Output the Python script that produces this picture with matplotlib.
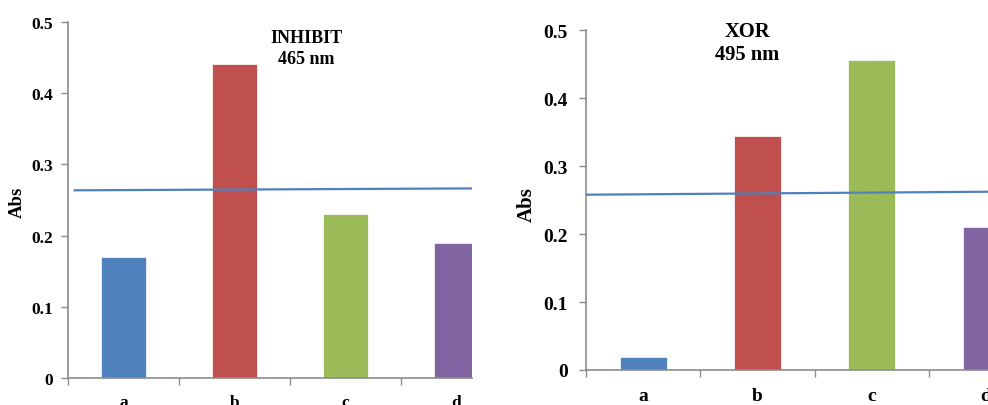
import matplotlib.pyplot as plt
from matplotlib.ticker import FixedLocator

# absorbance readings per input combination
labels = ["a", "b", "c", "d"]
inhibit_abs = [0.170, 0.441, 0.231, 0.190]
xor_abs = [0.019, 0.344, 0.456, 0.211]

# threshold lines (x in category units, y in Abs)
inhibit_thr_x = [-0.44, 3.6]
inhibit_thr_y = [0.2636, 0.2666]
xor_thr_x = [-0.5, 3.1]
xor_thr_y = [0.258, 0.2625]

colors = ["#4F81BD", "#C0504D", "#9BBB59", "#8064A2"]
line_color = "#4F81BD"
spine_color = "#8C8C8C"
W, H = 988, 406

plt.rcParams["font.family"] = ["Liberation Serif", "DejaVu Serif"]
plt.rcParams["font.weight"] = "bold"

fig = plt.figure(figsize=(W / 100, H / 100), dpi=100)


def panel(left, bottom, top, right, xmax, values, thr_x, thr_y, tick_fs, ypad, xpad):
    ax = fig.add_axes([left / W, (H - bottom) / H, (right - left) / W, (bottom - top) / H])
    x = range(len(values))
    ax.bar(x, values, width=0.41, color=colors, edgecolor="white", linewidth=0.5, zorder=2)
    ax.plot(thr_x, thr_y, color=line_color, linewidth=1.6, zorder=3)
    ax.set_xlim(-0.5, xmax)
    ax.set_ylim(0, 0.5)
    for s in ["top", "right"]:
        ax.spines[s].set_visible(False)
    for s in ["left", "bottom"]:
        ax.spines[s].set_color(spine_color)
        ax.spines[s].set_linewidth(1.2)
    ax.set_yticks([0, 0.1, 0.2, 0.3, 0.4, 0.5])
    ax.set_yticklabels(["0", "0.1", "0.2", "0.3", "0.4", "0.5"], fontsize=tick_fs, fontweight="bold")
    ax.tick_params(axis="y", length=5, width=1, color=spine_color, pad=ypad)
    ax.set_xticks(list(x))
    ax.set_xticklabels(labels, fontsize=tick_fs, fontweight="bold")
    ax.tick_params(axis="x", which="major", length=0, pad=xpad)
    ax.xaxis.set_minor_locator(FixedLocator([-0.5, 0.5, 1.5, 2.5, 3.5]))
    ax.tick_params(axis="x", which="minor", length=5, width=1, color=spine_color)
    return ax


ax1 = panel(68, 379, 23, 472, 3.14, inhibit_abs, inhibit_thr_x, inhibit_thr_y, 12.5, 6, 11.5)
ax2 = panel(586, 371, 31.3, 988, 3.017, xor_abs, xor_thr_x, xor_thr_y, 14, 8, 12.5)

fig.text(17 / W, 1 - 202 / H, "Abs", rotation=90, ha="center", va="center", fontsize=13.5, fontweight="bold")
fig.text(527 / W, 1 - 205 / H, "Abs", rotation=90, ha="center", va="center", fontsize=15, fontweight="bold")

fig.text(306 / W, 1 - 49 / H, "INHIBIT\n465 nm", ha="center", va="center", fontsize=13, fontweight="bold", linespacing=1.3)
fig.text(747 / W, 1 - 43.5 / H, "XOR\n495 nm", ha="center", va="center", fontsize=14.8, fontweight="bold", linespacing=1.2)

fig.savefig("out.png", dpi=100)
